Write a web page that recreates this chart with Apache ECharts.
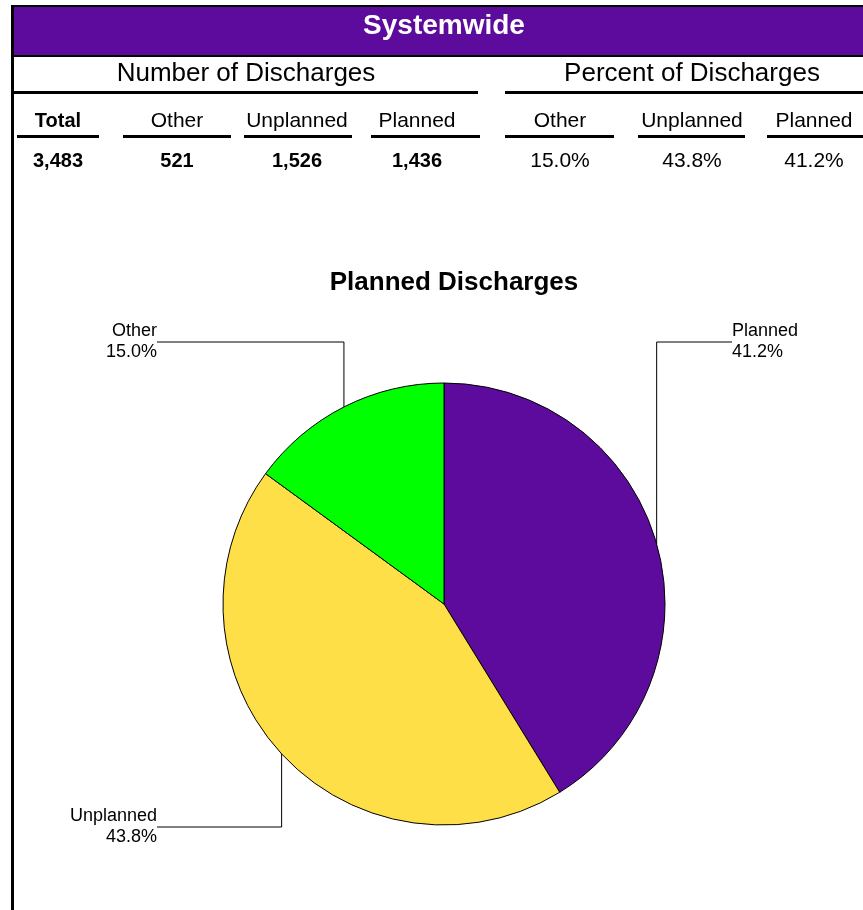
<!DOCTYPE html>
<html>
<head>
<meta charset="utf-8">
<script src="https://cdn.jsdelivr.net/npm/echarts@6/dist/echarts.min.js"></script>
<style>
html,body{margin:0;padding:0;background:#fff;}
#chart{width:863px;height:910px;}
</style>
</head>
<body>
<div id="chart"></div>
<script>
// ---- data ----
const sectionTitle = 'Systemwide';
const chartTitle = 'Planned Discharges';
const groupTitles = ['Number of Discharges', 'Percent of Discharges'];
const countHeaders = ['Total', 'Other', 'Unplanned', 'Planned'];
const percentHeaders = ['Other', 'Unplanned', 'Planned'];
const categories = ['Other', 'Unplanned', 'Planned'];
const counts = [521, 1526, 1436];
const sliceOrder = ['Planned', 'Unplanned', 'Other'];
const sliceColors = { Planned: '#5D0B9C', Unplanned: '#FFDF47', Other: '#00FF00' };

// ---- layout (not data) ----
const FONT = '"Liberation Sans", Arial, sans-serif';
const countCols = [58, 177, 297, 417];
const countLines = [[17, 99], [123, 231], [244, 352], [371, 480]];
const pctCols = [560, 692, 814];
const pctLines = [[505, 614], [638, 745], [767, 863]];
const labelCfg = {
  Planned:   { lineY: 342, endX: 732, textX: 732, align: 'left' },
  Unplanned: { lineY: 827, endX: 157, textX: 157, align: 'right' },
  Other:     { lineY: 342, endX: 157, textX: 157, align: 'right' }
};
const PIE_C = [444, 604], PIE_R = 221;

const total = counts.reduce((a, b) => a + b, 0);
const fmt = n => n.toLocaleString('en-US');
const pct = v => (v / total * 100).toFixed(1) + '%';

const g = [];
// frame
g.push({ type: 'rect', shape: { x: 11, y: 5, width: 852, height: 2 }, style: { fill: '#000' } });
g.push({ type: 'rect', shape: { x: 11, y: 5, width: 3, height: 905 }, style: { fill: '#000' } });
g.push({ type: 'rect', shape: { x: 14, y: 7, width: 849, height: 48 }, style: { fill: '#5D0B9C' } });
g.push({ type: 'rect', shape: { x: 14, y: 55, width: 849, height: 2 }, style: { fill: '#000' } });
g.push({ type: 'rect', shape: { x: 14, y: 91, width: 464, height: 3 }, style: { fill: '#000' } });
g.push({ type: 'rect', shape: { x: 505, y: 91, width: 358, height: 3 }, style: { fill: '#000' } });
g.push({ type: 'text', style: { text: sectionTitle, x: 444, y: 26, align: 'center', verticalAlign: 'middle', fill: '#fff', font: 'bold 28px ' + FONT } });
g.push({ type: 'text', style: { text: groupTitles[0], x: 246, y: 74, align: 'center', verticalAlign: 'middle', fill: '#000', font: '26px ' + FONT } });
g.push({ type: 'text', style: { text: groupTitles[1], x: 692, y: 74, align: 'center', verticalAlign: 'middle', fill: '#000', font: '26px ' + FONT } });

const countValues = [total].concat(counts);
countHeaders.forEach((h, i) => {
  const bold = i === 0;
  g.push({ type: 'text', style: { text: h, x: countCols[i], y: 121, align: 'center', verticalAlign: 'middle', fill: '#000', font: (bold ? 'bold 20px ' : '21px ') + FONT } });
  g.push({ type: 'rect', shape: { x: countLines[i][0], y: 135, width: countLines[i][1] - countLines[i][0], height: 3 }, style: { fill: '#000' } });
  g.push({ type: 'text', style: { text: fmt(countValues[i]), x: countCols[i], y: 161, align: 'center', verticalAlign: 'middle', fill: '#000', font: 'bold 20px ' + FONT } });
});
percentHeaders.forEach((h, i) => {
  const v = counts[categories.indexOf(h)];
  g.push({ type: 'text', style: { text: h, x: pctCols[i], y: 121, align: 'center', verticalAlign: 'middle', fill: '#000', font: '21px ' + FONT } });
  g.push({ type: 'rect', shape: { x: pctLines[i][0], y: 135, width: pctLines[i][1] - pctLines[i][0], height: 3 }, style: { fill: '#000' } });
  g.push({ type: 'text', style: { text: pct(v), x: pctCols[i], y: 161, align: 'center', verticalAlign: 'middle', fill: '#000', font: '21px ' + FONT } });
});
// chart title
g.push({ type: 'text', style: { text: chartTitle, x: 454, y: 283, align: 'center', verticalAlign: 'middle', fill: '#000', font: 'bold 26px ' + FONT } });

const pieData = sliceOrder.map(n => ({ name: n, value: counts[categories.indexOf(n)], itemStyle: { color: sliceColors[n] } }));

// edge point (mid-angle of each slice, clockwise from 12 o'clock)
function edgePoint(idx) {
  let before = 0;
  for (let i = 0; i < idx; i++) before += pieData[i].value;
  const mid = (before + pieData[idx].value / 2) / total * Math.PI * 2;
  return [PIE_C[0] + PIE_R * Math.sin(mid), PIE_C[1] - PIE_R * Math.cos(mid)];
}

const chart = echarts.init(document.getElementById('chart'), null, { renderer: 'canvas' });
chart.setOption({
  backgroundColor: '#fff',
  animation: false,
  graphic: g,
  series: [{
    type: 'pie',
    center: PIE_C,
    radius: PIE_R,
    startAngle: 90,
    clockwise: true,
    avoidLabelOverlap: false,
    data: pieData,
    itemStyle: { borderColor: '#000', borderWidth: 1 },
    emphasis: { disabled: true },
    label: {
      show: true,
      position: 'outside',
      formatter: p => p.name + '\n' + p.percent.toFixed(1) + '%',
      fontFamily: FONT, fontSize: 18, lineHeight: 21, color: '#000'
    },
    labelLine: { show: true, length: 10, length2: 10, smooth: false, lineStyle: { color: '#000', width: 1 } },
    labelLayout: function (p) {
      const name = pieData[p.dataIndex].name;
      const c = labelCfg[name];
      const e = edgePoint(p.dataIndex);
      return {
        x: c.textX, y: c.lineY, align: c.align, verticalAlign: 'middle',
        labelLinePoints: [[e[0], e[1]], [e[0], c.lineY], [c.endX, c.lineY]]
      };
    }
  }]
});
</script>
</body>
</html>
